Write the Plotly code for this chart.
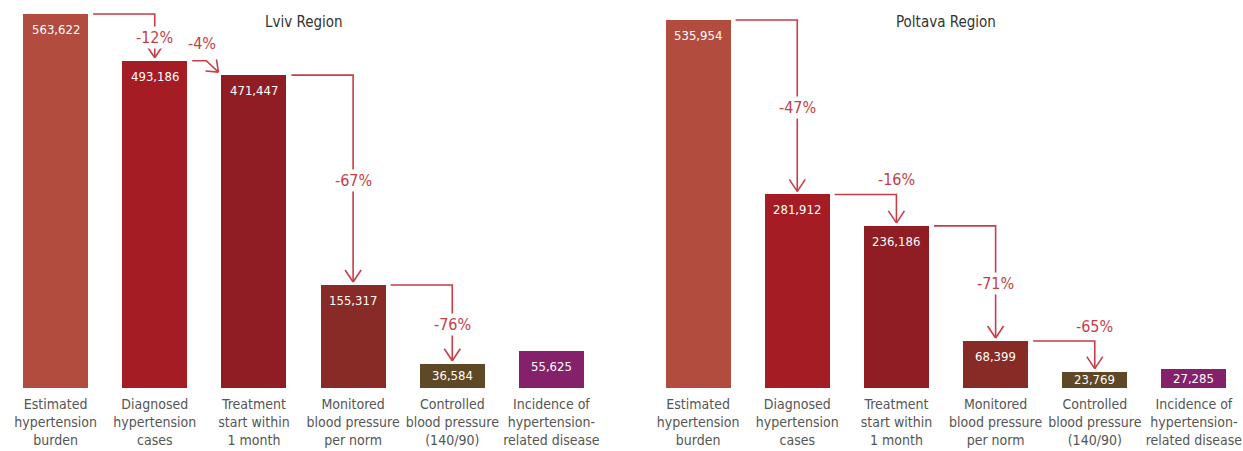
import math
import plotly.graph_objects as go

# ---------------- data ----------------
categories = [
    "Estimated<br>hypertension<br>burden",
    "Diagnosed<br>hypertension<br>cases",
    "Treatment<br>start within<br>1 month",
    "Monitored<br>blood pressure<br>per norm",
    "Controlled<br>blood pressure<br>(140/90)",
    "Incidence of<br>hypertension-<br>related disease",
]
lviv_values = [563622, 493186, 471447, 155317, 36584, 55625]
poltava_values = [535954, 281912, 236186, 68399, 23769, 27285]
lviv_changes = ["-12%", "-4%", "-67%", "-76%"]
poltava_changes = ["-47%", "-16%", "-71%", "-65%"]
titles = ["Lviv Region", "Poltava Region"]
bar_colors = ["#b24c3f", "#a51c25", "#8f1d23", "#882a26", "#5f4826", "#85206b"]

# ---------------- layout constants ----------------
OFF = 0                      # page body margin (removed by post_script)
PAGE_W, PAGE_H = 1243, 451
W, H = PAGE_W - OFF, PAGE_H - OFF
BASE_PX = 388 - OFF          # baseline row in figure pixels
BW = 0.655                   # bar width (category units)
UNIT_PX = 99.17              # pixels per category
ARROW = "#c73d48"
FONT = "Liberation Sans Narrow, Arial Narrow, DejaVu Sans Condensed, sans-serif"

# panel: page x of category -0.5 (left edge), value units per pixel
panels = [
    dict(values=lviv_values, changes=lviv_changes, title=titles[0],
         left_px=6.0, kyv=1507.0, xa="x", ya="y"),
    dict(values=poltava_values, changes=poltava_changes, title=titles[1],
         left_px=648.5, kyv=1456.4, xa="x2", ya="y2"),
]

fig = go.Figure()
annotations = []
layout_axes = {}

for n, p in enumerate(panels):
    vals = p["values"]
    kx = 1.0 / UNIT_PX
    ky = p["kyv"]
    xs = list(range(len(vals)))

    # axis geometry (figure pixels)
    fx0 = max(0.0, p["left_px"] - OFF)
    r0 = -0.5 + (fx0 - (p["left_px"] - OFF)) * kx
    fx1 = min(W, p["left_px"] - OFF + 6 * UNIT_PX)
    r1 = -0.5 + (fx1 - (p["left_px"] - OFF)) * kx
    suffix = "" if n == 0 else str(n + 1)
    layout_axes["xaxis" + suffix] = dict(domain=[fx0 / W, fx1 / W], range=[r0, r1],
                                         anchor="y" + suffix)
    layout_axes["yaxis" + suffix] = dict(range=[0, BASE_PX * ky], anchor="x" + suffix)

    fig.add_trace(go.Bar(
        x=xs, y=vals, width=BW, marker=dict(color=bar_colors, line=dict(width=0)),
        xaxis=p["xa"], yaxis=p["ya"], hoverinfo="skip", showlegend=False,
    ))

    # value labels inside bars
    for i, v in enumerate(vals):
        hpx = v / ky
        annotations.append(dict(
            x=i, y=v, xref=p["xa"], yref=p["ya"], text=f"{v:,}", showarrow=False,
            yanchor="middle", yshift=-min(15.5, hpx / 2),
            font=dict(family=FONT, size=13, color="white"),
        ))

    # connectors with percentage changes
    lx, ly = [], []
    for i, txt in enumerate(p["changes"]):
        v0, v1 = vals[i], vals[i + 1]
        drop_px = (v0 - v1) / ky
        sx = i + BW / 2 + 5 * kx
        if drop_px < 20:
            # short diagonal arrow
            bx = sx + 14 * kx
            tipx = i + 1 - BW / 2 - 3 * kx
            tipy = v1 + 3 * ky
            lx += [sx, bx, tipx, None]
            ly += [v0, v0, tipy, None]
            dxp = (tipx - bx) / kx
            dyp = (tipy - v0) / ky
            ang = math.atan2(dyp, dxp)
            for s in (1, -1):
                a = ang + math.pi + s * math.radians(38)
                lx += [tipx + 13 * math.cos(a) * kx, tipx, None]
                ly += [tipy + 13 * math.sin(a) * ky, tipy, None]
            annotations.append(dict(
                x=sx + 10 * kx, y=v0, xref=p["xa"], yref=p["ya"], text=txt,
                showarrow=False, yshift=17, font=dict(family=FONT, size=16, color=ARROW),
            ))
        else:
            cx = i + 1
            tipy = v1 + 3 * ky
            lx += [sx, cx, cx, None]
            ly += [v0, v0, tipy, None]
            for s in (1, -1):
                lx += [cx + s * 8 * kx, cx, None]
                ly += [tipy + 12 * ky, tipy, None]
            if drop_px < 40:
                annotations.append(dict(
                    x=cx, y=v0, xref=p["xa"], yref=p["ya"], text=txt,
                    showarrow=False, yshift=15, font=dict(family=FONT, size=16, color=ARROW),
                ))
            else:
                annotations.append(dict(
                    x=cx, y=(v0 + v1) / 2, xref=p["xa"], yref=p["ya"], text=txt,
                    showarrow=False, bgcolor="white", borderpad=1,
                    font=dict(family=FONT, size=16, color=ARROW),
                ))
    fig.add_trace(go.Scatter(
        x=lx, y=ly, mode="lines", line=dict(color=ARROW, width=1.6),
        xaxis=p["xa"], yaxis=p["ya"], hoverinfo="skip", showlegend=False,
    ))

    # panel title (page row ~22)
    annotations.append(dict(
        x=2.5, y=1, xref=p["xa"], yref="paper", yanchor="middle", yshift=-(22 - OFF),
        text=p["title"], showarrow=False, font=dict(family=FONT, size=15, color="#333333"),
    ))

ydom = [(H - BASE_PX) / H, 1.0]
axis_common = dict(tickmode="array", tickvals=list(range(6)),
                   ticktext=categories, showgrid=False, zeroline=False, showline=False,
                   ticks="", tickangle=0, automargin=False, ticklabelstandoff=6,
                   ticklabeloverflow="allow",
                   tickfont=dict(family=FONT, size=14, color="#555555"),
                   fixedrange=True)
yaxis_common = dict(showgrid=False, zeroline=False, showline=False, showticklabels=False,
                    domain=ydom, fixedrange=True, automargin=False)

for k, v in layout_axes.items():
    v.update(axis_common if k.startswith("x") else yaxis_common)

fig.update_layout(
    width=W, height=H, margin=dict(l=0, r=0, t=0, b=0, autoexpand=False),
    paper_bgcolor="white", plot_bgcolor="white", bargap=0,
    annotations=annotations,
    font=dict(family=FONT),
    hovermode=False,
    **layout_axes,
)

fig.write_html(
    "out.html",
    config={"displayModeBar": False, "staticPlot": True},
    post_script="document.body.style.margin='0';document.body.style.overflow='hidden';",
)
